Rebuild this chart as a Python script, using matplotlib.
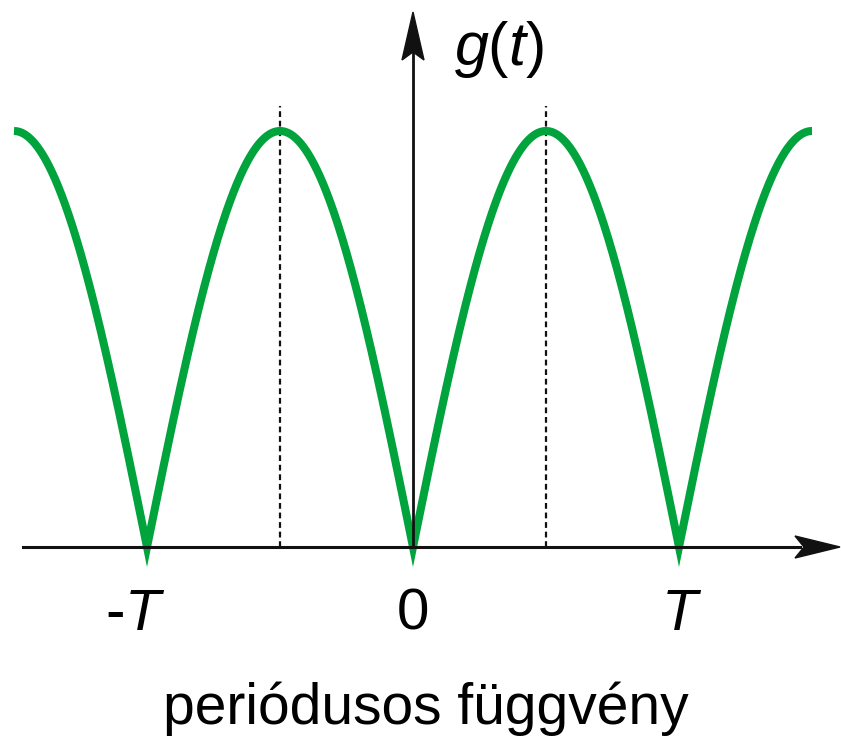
import numpy as np
import matplotlib
matplotlib.use("Agg")
import matplotlib.pyplot as plt
from matplotlib.patches import Polygon

plt.rcParams['font.family'] = ['Liberation Sans', 'DejaVu Sans']
plt.rcParams['mathtext.fontset'] = 'custom'
plt.rcParams['mathtext.rm'] = 'Liberation Sans'
plt.rcParams['mathtext.it'] = 'Liberation Sans:italic'

# Data (in units of the period T)
period = 1.0
t_range = [-1.5, 1.5]
amplitude = 1.0
tick_positions = [-1.045, 0.0, 1.01]
tick_labels = ["-$T$", "0", "$T$"]
dashed_positions = [-0.5, 0.5]
dashed_height = 1.06
ylabel = "$g(t)$"
title = "periódusos függvény"

W, H = 841, 737
fig = plt.figure(figsize=(W / 100, H / 100), dpi=100)
ax = fig.add_axes([0, 0, 1, 1])
ax.set_axis_off()

# pixel mapping: t -> 413 + 266 t ; y -> 547 - 416 y
x0, sx = 413.0, 266.0
y0, sy = 547.0, 416.0
ax.set_xlim(-x0 / sx, (W - x0) / sx)
ax.set_ylim(-(H - y0) / sy, y0 / sy)

t = np.linspace(t_range[0], t_range[1], 3001)
g = amplitude * np.abs(np.sin(np.pi * t / period))
ax.plot(t, g, color='#00a33c', lw=5.8, solid_capstyle='butt', solid_joinstyle='miter', zorder=3)

for d in dashed_positions:
    ax.plot([d, d], [0, dashed_height], color='#111111', lw=1.6, ls=(0, (2.6, 1.7)), zorder=2)

# axes lines
ax.plot([(23 - x0) / sx, (800 - x0) / sx], [0, 0], color='#111111', lw=2.2, zorder=4)
ax.plot([0, 0], [0, (y0 - 50) / sy], color='#111111', lw=2.0, zorder=4)

# arrow heads in axes fraction coords (pixels)
def px(x, y):
    return (x / W, 1 - y / H)

xh = [px(840, 547), px(795, 536), px(804, 547), px(795, 558)]
yh = [px(413, 12), px(402, 60), px(413, 52), px(424, 60)]
for pts in (xh, yh):
    ax.add_patch(Polygon(pts, closed=True, transform=ax.transAxes, color='#111111', zorder=5))

for p, lab in zip(tick_positions, tick_labels):
    ax.text(p, -(630 - y0) / sy, lab, fontsize=42, ha='center', va='baseline')

ax.text((499 - x0) / sx, (y0 - 65) / sy, ylabel, fontsize=44, ha='center', va='baseline')
ax.text((426 - x0) / sx, -(724 - y0) / sy, title, fontsize=41, ha='center', va='baseline')

fig.savefig("out.png", dpi=100)
